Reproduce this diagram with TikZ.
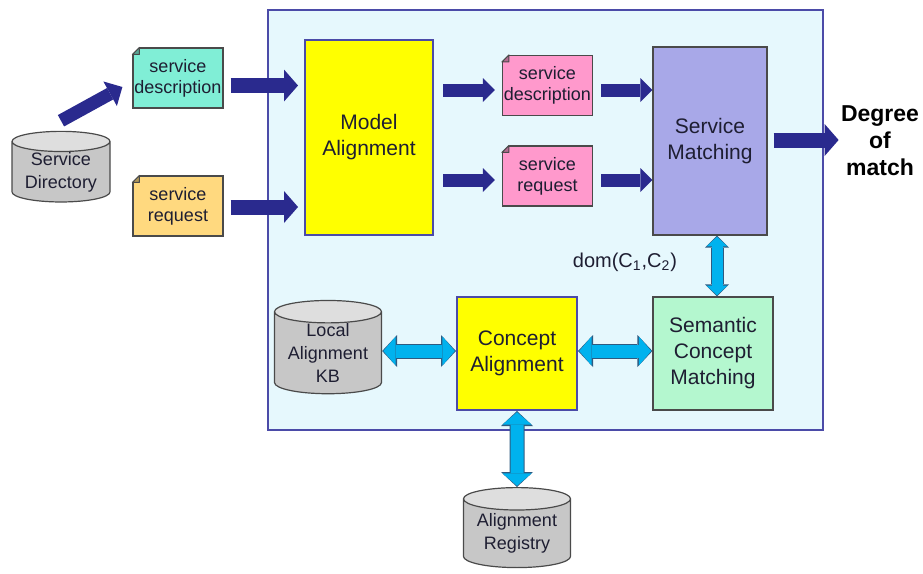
\documentclass[tikz,border=0pt]{standalone}
\usepackage{fontspec}
\setmainfont{Liberation Sans}
\usepackage{tikz}
\usetikzlibrary{arrows.meta,shapes.geometric,positioning,calc}
\definecolor{frameblue}{HTML}{4B4BA8}
\definecolor{framefill}{HTML}{E6F8FD}
\definecolor{alignyellow}{HTML}{FFFF00}
\definecolor{matchlilac}{HTML}{A8A8E8}
\definecolor{semgreen}{HTML}{B4F7CF}
\definecolor{descaqua}{HTML}{80EED6}
\definecolor{reqorange}{HTML}{FFD97F}
\definecolor{docpink}{HTML}{FF99CC}
\definecolor{arrownavy}{HTML}{2A2A8E}
\definecolor{linkcyan}{HTML}{00B2EE}
\definecolor{linkedge}{HTML}{2E5A80}
\definecolor{textdark}{HTML}{1E1E32}
\definecolor{boxedge}{HTML}{4A4A4A}
\tikzstyle{frame} = [rectangle, draw=frameblue, line width=1pt, fill=framefill,
    minimum width=277.5pt, minimum height=210pt, inner sep=0pt]
\tikzstyle{block} = [rectangle, draw=boxedge, line width=0.6pt, align=center,
    inner sep=1pt, font=\fontsize{10.5}{13}\selectfont]
\tikzstyle{yblock} = [block, draw=frameblue, line width=1pt, fill=alignyellow]
\tikzstyle{doc} = [rectangle, draw=boxedge, line width=0.6pt, minimum width=45pt,
    minimum height=30pt, inner sep=0pt, align=center, font=\fontsize{9}{10.5}\selectfont]
\tikzstyle{db} = [cylinder, shape border rotate=90, aspect=0.28, draw=boxedge,
    line width=0.6pt, cylinder uses custom fill, cylinder body fill=black!22,
    cylinder end fill=black!13, align=center, inner sep=0pt,
    font=\fontsize{9}{11.5}\selectfont]
\tikzstyle{flow} = [draw=arrownavy, line width=7.5pt, shorten <=3.5pt, shorten >=3pt,
    -{Triangle[length=7pt,width=16pt,line width=0pt]}]
\tikzstyle{flowsmall} = [draw=arrownavy, line width=6.5pt, shorten <=4.5pt, shorten >=3.5pt,
    -{Triangle[length=6pt,width=12pt,line width=0pt]}]
\tikzstyle{link} = [draw=linkcyan, line width=6.5pt, shorten <=0.6pt, shorten >=0.6pt,
    {Triangle[length=6.2pt,width=14.5pt,line width=0pt]}-{Triangle[length=6.2pt,width=14.5pt,line width=0pt]},
    preaction={draw=linkedge, line width=7.5pt, shorten <=0pt, shorten >=0pt,
    {Triangle[length=7.5pt,width=16pt,line width=0pt]}-{Triangle[length=7.5pt,width=16pt,line width=0pt]}}]
\tikzstyle{linkslim} = [draw=linkcyan, line width=5.5pt, shorten <=0.6pt, shorten >=0.6pt,
    {Triangle[length=4.8pt,width=10.5pt,line width=0pt]}-{Triangle[length=4.8pt,width=10.5pt,line width=0pt]},
    preaction={draw=linkedge, line width=6.5pt, shorten <=0pt, shorten >=0pt,
    {Triangle[length=6pt,width=12pt,line width=0pt]}-{Triangle[length=6pt,width=12pt,line width=0pt]}}]

\begin{document}
\begin{tikzpicture}[x=0.5pt, y=-0.5pt]
\tikzstyle{every node}=[text=textdark]
    \useasboundingbox (0,0) rectangle (923,574);
    % alignment engine
    \node [frame] (engine) at (545.5,220) {};
    % inputs from outside
    \node [db, minimum width=49pt, minimum height=34pt] (dir) at (61,172) {Service\\Directory};
    \node [doc, fill=descaqua] (sdesc) at (178,78) {service\\description};
    \node [doc, fill=reqorange, below of=sdesc, node distance=64pt] (sreq) {service\\request};
    % inside the engine
    \node [yblock, minimum width=64pt, minimum height=97.5pt] (model) at (369,137.5) {Model\\Alignment};
    \node [doc, fill=docpink] (pdesc) at (547.5,85.5) {service\\description};
    \node [doc, fill=docpink, below of=pdesc, node distance=45.25pt] (preq) {service\\request};
    \node [block, fill=matchlilac, minimum width=57pt, minimum height=94pt] (match) at (710,141) {Service\\Matching};
    \node [yblock, minimum width=60pt, minimum height=56.5pt] (concept) at (517,353.5) {Concept\\Alignment};
    \node [block, fill=semgreen, minimum width=60pt, minimum height=56.5pt, right of=concept, node distance=98pt] (semantic) {Semantic\\Concept\\Matching};
    \node [db, minimum width=53.5pt, minimum height=45pt] (localkb) at (328,353) {Local\\Alignment\\KB};
    \node [db, minimum width=53.5pt, minimum height=40pt, below of=concept, node distance=90pt] (registry) {Alignment\\Registry};
    \node [font=\fontsize{11.5}{13.5}\selectfont\bfseries, align=center, text=black, inner sep=1pt] (degree) at (880,141) {Degree\\of\\match};
    \node [font=\fontsize{10}{12}\selectfont] (dom) at (625,262) {dom(C\textsubscript{1},C\textsubscript{2})};
    % folded corners
    \foreach \d/\c/\b in {sdesc/descaqua/white, sreq/reqorange/white, pdesc/docpink/framefill, preq/docpink/framefill} {
        \fill [\b] ($(\d.north west)+(-0.6pt,0.6pt)$) -- ($(\d.north west)+(4.1pt,0.6pt)$)
            -- ($(\d.north west)+(-0.6pt,-4.1pt)$) -- cycle;
        \filldraw [draw=boxedge, fill=\c!70!black, line width=0.5pt, line join=round]
            ($(\d.north west)+(3.5pt,0)$) -- ++(0,-3.5pt) -- ++(-3.5pt,0) -- cycle;
    }
    % service flow
    \coordinate (in1) at ($(sdesc.east)+(0,7.5)$);
    \coordinate (in2) at ($(sreq.east)+(0,1)$);
    \coordinate (mid1) at ($(pdesc.west)+(0,4.5)$);
    \coordinate (mid2) at ($(preq.west)+(0,4)$);
    \coordinate (out) at ($(match.east)+(0,-1)$);
    \path [flow, line width=6.5pt, shorten <=0pt, shorten >=0pt, -{Triangle[length=7pt,width=14pt,line width=0pt]}]
        ([yshift=5pt]dir.north) -- ([shift={(-5pt,-4.5pt)}]sdesc.west);
    \path [flow] (in1) -- (in1 -| model.west);
    \path [flow] (in2) -- (in2 -| model.west);
    \path [flowsmall] (mid1 -| model.east) -- (mid1);
    \path [flowsmall] (mid2 -| model.east) -- (mid2);
    \path [flowsmall, shorten <=4pt, shorten >=0pt] (mid1 -| pdesc.east) -- (mid1 -| match.west);
    \path [flowsmall, shorten <=4pt, shorten >=0pt] (mid2 -| preq.east) -- (mid2 -| match.west);
    \path [flow, shorten <=3pt, shorten >=0pt] (out) -- (out -| degree.west);
    % concept links
    \coordinate (up) at ($(semantic.north)+(4,0)$);
    \coordinate (lk) at ($(concept.west)+(0,-2.5)$);
    \path [linkslim] (up |- match.south) -- (up);
    \path [link] (lk -| localkb.east) -- (lk);
    \path [link] (lk -| concept.east) -- (lk -| semantic.west);
    \path [link] (concept.south) -- (registry.north);
\end{tikzpicture}
\end{document}
